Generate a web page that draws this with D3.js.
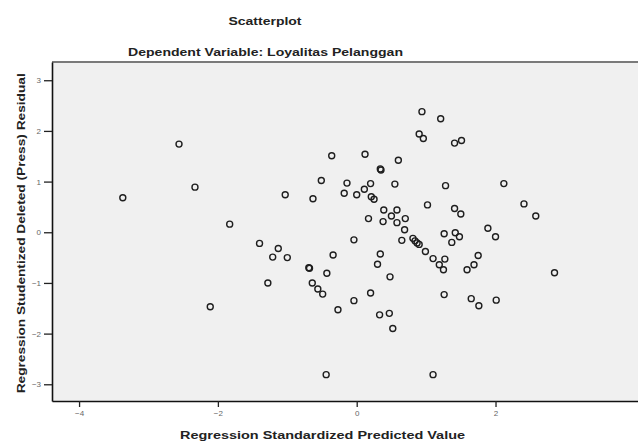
<!DOCTYPE html>
<html><head><meta charset="utf-8">
<script src="https://cdn.jsdelivr.net/npm/d3@7/dist/d3.min.js"></script>
<style>
html,body{margin:0;padding:0;background:#fff;}
text{font-family:"Liberation Sans",Arial,sans-serif;}
</style></head>
<body><svg id="c" width="638" height="441"></svg>
<script>
// Data (x: standardized predicted value, y: studentized deleted residual)
const predicted = [
 -2.56,-2.33,-3.37,-1.83,-1.40,-2.11,0.94,1.21,0.90,0.96,
 -0.36,0.12,0.60,0.34,0.35,-0.51,-0.14,0.20,0.55,1.28,
 -1.03,-0.63,-0.18,0.00,0.11,0.21,0.25,1.02,0.39,0.58,
 0.50,0.17,0.38,0.70,0.58,0.69,0.65,0.81,0.84,0.87,
 0.90,0.99,1.26,1.37,1.10,1.27,1.19,1.25,1.26,-1.13,
 -1.21,-1.00,-0.04,-0.34,0.34,0.30,-0.69,-0.68,-0.43,0.48,
 -1.28,-0.64,-0.56,-0.49,0.20,-0.04,-0.27,0.33,0.47,0.52,
 -0.44,1.10,1.41,1.51,2.12,1.41,1.50,2.41,2.58,1.89,
 1.42,1.48,2.00,1.75,1.69,1.59,2.85,1.65,1.76,2.01
];
const residual = [
 1.74,0.89,0.68,0.16,-0.22,-1.47,2.38,2.24,1.94,1.85,
 1.51,1.54,1.42,1.25,1.23,1.02,0.97,0.96,0.95,0.92,
 0.74,0.66,0.77,0.74,0.85,0.70,0.65,0.54,0.44,0.44,
 0.32,0.27,0.21,0.27,0.19,0.05,-0.16,-0.12,-0.17,-0.21,
 -0.24,-0.38,-0.03,-0.20,-0.52,-0.53,-0.64,-0.74,-1.23,-0.32,
 -0.49,-0.50,-0.15,-0.45,-0.43,-0.63,-0.70,-0.71,-0.81,-0.88,
 -1.00,-1.00,-1.12,-1.22,-1.20,-1.35,-1.53,-1.63,-1.60,-1.90,
 -2.81,-2.81,1.76,1.81,0.96,0.47,0.36,0.56,0.32,0.08,
 -0.01,-0.09,-0.09,-0.46,-0.64,-0.74,-0.80,-1.31,-1.45,-1.34
];
const xTicks = [-4,-2,0,2];
const yTicks = [-3,-2,-1,0,1,2,3];
const title = "Scatterplot";
const subtitle = "Dependent Variable: Loyalitas Pelanggan";
const xTitle = "Regression Standardized Predicted Value";
const yTitle = "Regression Studentized Deleted (Press) Residual";

const svg = d3.select("#c");
const L=52, T=62, B=401, R=640;
const x = d3.scaleLinear().domain([-4.39,4.06]).range([L,638.5]);
const y = d3.scaleLinear().domain([-3.33,3.36]).range([B,T]);

svg.append("rect").attr("x",L).attr("y",T).attr("width",R-L+10).attr("height",B-T).attr("fill","#f0f0f0");
svg.append("line").attr("x1",L).attr("x2",R).attr("y1",T).attr("y2",T).attr("stroke","#7a7a7a").attr("stroke-width",2);

const g = svg.append("g");
g.selectAll("circle").data(predicted.map((p,i)=>[p,residual[i]])).join("circle")
 .attr("cx",d=>x(d[0])).attr("cy",d=>y(d[1])).attr("r",3)
 .attr("fill","none").attr("stroke","#1e1e1e").attr("stroke-width",1.4);

const ya = svg.append("g").attr("transform",`translate(${L},0)`)
 .call(d3.axisLeft(y).tickValues(yTicks).tickSize(8).tickSizeOuter(0).tickPadding(3).tickFormat(d3.format("d")));
const xa = svg.append("g").attr("transform",`translate(0,${B})`)
 .call(d3.axisBottom(x).tickValues(xTicks).tickSize(6).tickSizeOuter(0).tickPadding(3).tickFormat(d3.format("d")));
[ya,xa].forEach(a=>{
  a.select(".domain").attr("stroke","#111").attr("stroke-width",1.6);
  a.selectAll(".tick line").attr("stroke","#222").attr("stroke-width",1.3);
  a.selectAll(".tick text").attr("fill","#666").attr("font-size",8).attr("font-family","Liberation Sans, Arial, sans-serif");
});

function label(t,cx,cy,size,len,rot){
  const el = svg.append("text").attr("text-anchor","middle").attr("dominant-baseline","central")
   .attr("font-weight","bold").attr("font-size",size).attr("fill","#222")
   .attr("textLength",len).attr("lengthAdjust","spacingAndGlyphs").text(t);
  if(rot) el.attr("transform",`translate(${cx},${cy}) rotate(-90)`);
  else el.attr("x",cx).attr("y",cy);
}
label(title,265,21,11,73);
label(subtitle,265.5,52,11,275);
label(xTitle,322.5,435,11,285);
label(yTitle,21,233.3,10.5,320,true);
</script></body></html>
